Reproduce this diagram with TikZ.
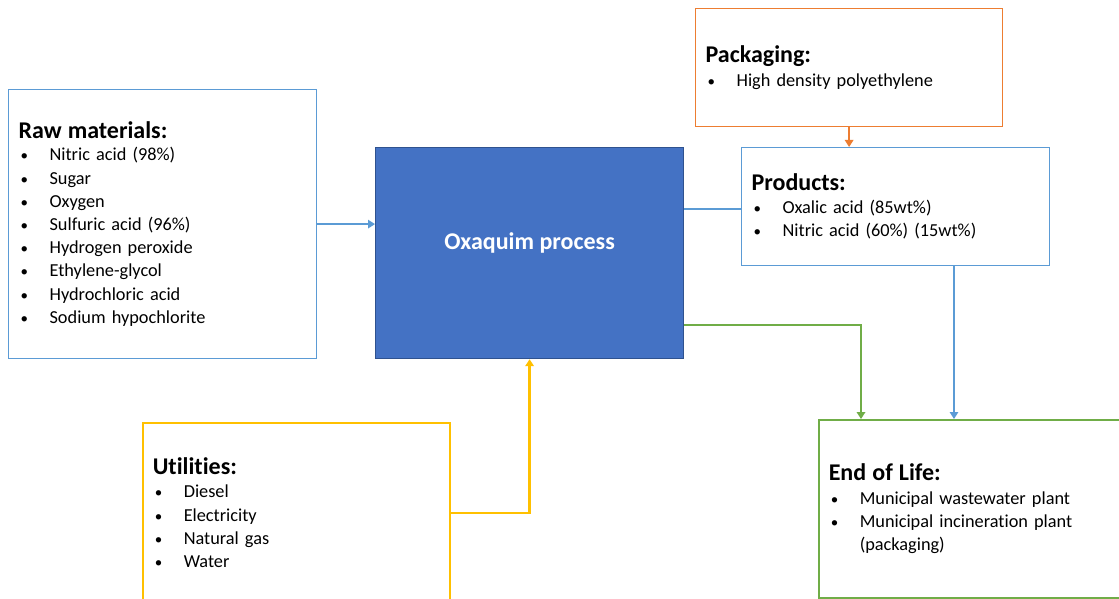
\documentclass[tikz,border=0pt]{standalone}
\usepackage{fontspec}
\setmainfont{Carlito}[Ligatures={NoCommon}]
\usetikzlibrary{arrows.meta,calc}
\definecolor{cblue}{HTML}{5B9BD5}
\definecolor{oxfill}{HTML}{4472C4}
\definecolor{oxdraw}{HTML}{2F528F}
\definecolor{corange}{HTML}{ED7D31}
\definecolor{cyellow}{HTML}{FFC000}
\definecolor{cgreen}{HTML}{70AD47}
\newcommand{\bi}[1]{\hspace*{2pt}\makebox[29pt][l]{\fontsize{15}{15}\selectfont\textbullet}#1}
\newcommand{\ttl}[1]{{\bfseries\fontsize{24}{25}\selectfont #1}}
\tikzset{
  box/.style={rectangle, anchor=north west, align=left, inner xsep=10pt, inner ysep=0pt,
    font=\fontsize{18.3}{23.2}\selectfont, line width=1.2pt},
  conn/.style={line width=1.4pt, -{Triangle[length=7pt,width=8.5pt]}},
}
\begin{document}
\begin{tikzpicture}[x=1pt,y=-1pt]
\useasboundingbox[fill=white] (0,0) rectangle (1119,599);
\node[box, draw=cblue, minimum width=308pt, minimum height=269pt, text width=288pt] (raw) at (8,89)
 {\ttl{Raw materials:}\\[-1pt]
  \bi{Nitric acid (98\%)}\\
  \bi{Sugar}\\
  \bi{Oxygen}\\
  \bi{Sulfuric acid (96\%)}\\
  \bi{Hydrogen peroxide}\\
  \bi{Ethylene-glycol}\\
  \bi{Hydrochloric acid}\\
  \bi{Sodium hypochlorite}};
\node[rectangle, anchor=north west, fill=oxfill, draw=oxdraw, line width=1.2pt, minimum width=308pt, minimum height=211pt,
  text=white, font=\bfseries\fontsize{24}{25}\selectfont] (ox) at (375,147) {\raisebox{25pt}{Oxaquim process}};
\node[box, draw=corange, minimum width=307pt, minimum height=118pt, text width=287pt] (pack) at (695,8)
 {\ttl{Packaging:}\\
  \bi{High density polyethylene}};
\node[box, draw=cblue, minimum width=308pt, minimum height=118pt, text width=288pt] (prod) at (741,147)
 {\ttl{Products:}\\
  \bi{Oxalic acid (85wt\%)}\\
  \bi{Nitric acid (60\%) (15wt\%)}};
\node[box, draw=cyellow, line width=1.5pt, minimum width=307pt, minimum height=180pt, text width=287pt] (util) at (142,422)
 {\ttl{Utilities:}\\
  \bi{Diesel}\\
  \bi{Electricity}\\
  \bi{Natural gas}\\
  \bi{Water}};
\node[box, draw=cgreen, line width=1.5pt, minimum width=304pt, minimum height=178pt, text width=284pt] (eol) at (818,419)
 {\ttl{End of Life:}\\
  \bi{Municipal wastewater plant}\\
  \bi{Municipal incineration plant}\\
  \hspace*{31pt}(packaging)};
\coordinate (eolin) at ($(eol.north west)+(43,0)$);
\coordinate (prodout) at ($(prod.south west)+(213,0)$);
\draw[conn, draw=cblue] (raw.east) -- (raw.east -| ox.west);
\draw[draw=cblue, line width=1.4pt] (ox.east |- 0,209) -- (prod.west |- 0,209);
\draw[conn, draw=corange] (pack.south) -- (pack.south |- prod.north);
\draw[conn, draw=cgreen, line width=2.3pt] (ox.east |- 0,325) -| (eolin);
\draw[conn, draw=cblue] (prodout) -- (prodout |- eol.north);
\draw[conn, draw=cyellow, line width=2.3pt] (util.east) -| (ox.south);
\end{tikzpicture}
\end{document}
